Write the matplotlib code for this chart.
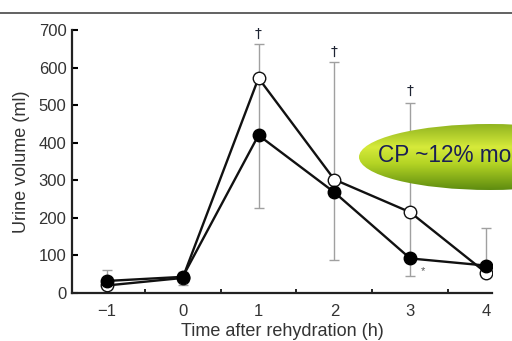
import matplotlib.pyplot as plt
import numpy as np
from matplotlib.patches import Ellipse
from matplotlib.lines import Line2D
from matplotlib.colors import LinearSegmentedColormap

# data
hours = [-1, 0, 1, 2, 3, 4]
open_vals = [20, 40, 572, 302, 215, 54]
filled_vals = [32, 43, 420, 268, 92, 73]
err_lo = [32, 22, 226, 88, 45, 73]
err_hi = [62, 55, 662, 615, 505, 173]
dagger_x = [1, 2, 3]
dagger_y = [690, 643, 537]

plt.rcParams["font.family"] = ["Liberation Sans", "DejaVu Sans"]

fig = plt.figure(figsize=(5.12, 3.41), dpi=100)
ax = fig.add_axes([0.1406, 0.1408, 0.8204, 0.7712])

mid = np.array(err_lo)
ax.errorbar(hours, mid, yerr=[mid - np.array(err_lo), np.array(err_hi) - mid],
            fmt='none', ecolor='#a0a0a0', elinewidth=1.0, capsize=3.5,
            capthick=1.0, zorder=1)

ax.plot(hours, open_vals, '-o', color='#111111', lw=1.7, ms=9,
        mfc='white', mec='#111111', mew=1.0, zorder=3)
ax.plot(hours, filled_vals, '-o', color='#111111', lw=1.7, ms=9,
        mfc='black', mec='black', zorder=4)

for x, y in zip(dagger_x, dagger_y):
    ax.text(x, y, '\u2020', ha='center', va='center', fontsize=10,
            color='#1e2433', family='DejaVu Sans')
ax.text(3.17, 58, '*', ha='center', va='center', fontsize=8, color='#555555')

ax.set_xlim(-1.46, 4.08)
ax.set_ylim(0, 700)
ax.set_xticks(hours)
ax.set_xticks([-0.5, 0.5, 1.5, 2.5, 3.5], minor=True)
ax.set_yticks(range(0, 701, 100))
ax.tick_params(axis='x', which='major', length=0, pad=8, labelsize=12,
               labelcolor='#333333')
ax.tick_params(axis='x', which='minor', length=3, direction='in', width=1.2)
ax.tick_params(axis='y', length=4, direction='in', width=1.5, pad=4,
               labelsize=12, labelcolor='#333333')
ax.set_xticklabels(['\u22121', '0', '1', '2', '3', '4'])
for s in ['top', 'right']:
    ax.spines[s].set_visible(False)
for s in ['left', 'bottom']:
    ax.spines[s].set_linewidth(1.6)
    ax.spines[s].set_color('#222222')

ax.set_ylabel('Urine volume (ml)', fontsize=13, color='#333333', labelpad=6)
ax.set_xlabel('Time after rehydration (h)', fontsize=13, color='#333333',
              labelpad=3)

# top rule
fig.add_artist(Line2D([0, 1], [1 - 13 / 341, 1 - 13 / 341],
                      transform=fig.transFigure, color='#555555', lw=1.3))

# green callout ellipse with vertical gradient
W, H = 512, 341
cx, cy, ew, eh = 490, 157, 262, 66
grad = np.linspace(0, 1, 256).reshape(-1, 1)
cmap = LinearSegmentedColormap.from_list(
    'g', [(0, '#90b420'), (0.35, '#d6ea3a'), (0.6, '#b4d424'), (1, '#5e8c10')])
gax = fig.add_axes([0, 0, 1, 1], zorder=5)
gax.set_xlim(0, 1)
gax.set_ylim(0, 1)
gax.axis('off')
im = gax.imshow(grad, cmap=cmap, aspect='auto',
                extent=[(cx - ew / 2) / W, (cx + ew / 2) / W,
                        1 - (cy + eh / 2) / H, 1 - (cy - eh / 2) / H])
ell = Ellipse((cx / W, 1 - cy / H), ew / W, eh / H, transform=gax.transData,
              facecolor='none', edgecolor='none')
gax.add_patch(ell)
im.set_clip_path(ell)
gax.text(378 / W, 1 - 156 / H, 'CP ~12% mo', ha='left', va='center',
         fontsize=16.3, color='#1a1f55', family='Liberation Sans')

fig.savefig('out.png', dpi=100)
